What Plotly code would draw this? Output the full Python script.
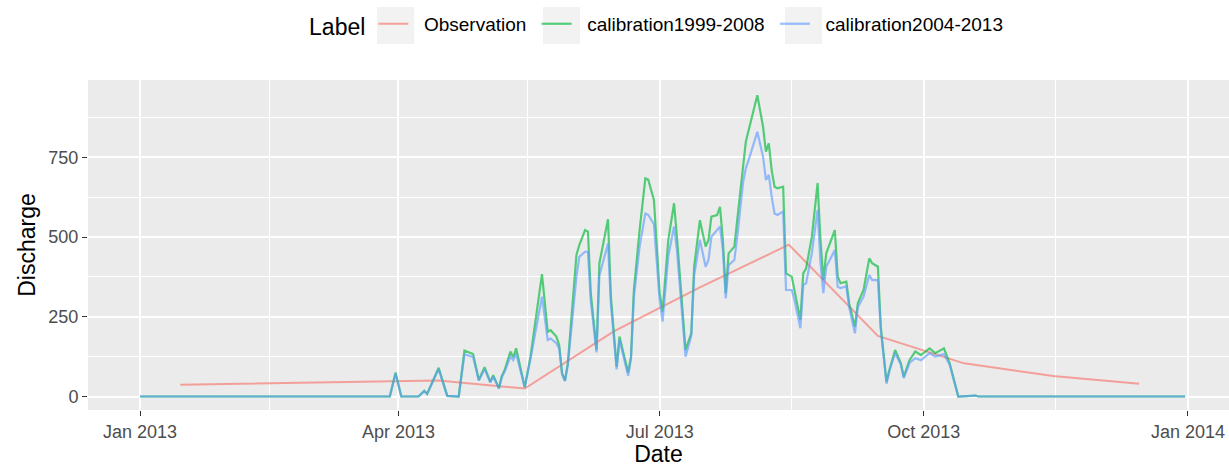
import plotly.graph_objects as go

# ---- data ----
sim_dates = [
    "2013-01-01", "2013-03-29", "2013-03-31", "2013-04-02", "2013-04-08", "2013-04-10",
    "2013-04-11", "2013-04-15", "2013-04-18", "2013-04-22", "2013-04-24", "2013-04-27",
    "2013-04-29", "2013-05-01", "2013-05-03", "2013-05-04", "2013-05-06", "2013-05-07",
    "2013-05-08", "2013-05-10", "2013-05-11", "2013-05-12", "2013-05-15", "2013-05-17",
    "2013-05-21", "2013-05-23", "2013-05-24", "2013-05-26", "2013-05-27", "2013-05-28",
    "2013-05-29", "2013-05-30", "2013-06-02", "2013-06-03", "2013-06-05", "2013-06-06",
    "2013-06-07", "2013-06-09", "2013-06-10", "2013-06-13", "2013-06-14", "2013-06-16",
    "2013-06-17", "2013-06-20", "2013-06-21", "2013-06-22", "2013-06-24", "2013-06-26",
    "2013-06-27", "2013-06-29", "2013-07-01", "2013-07-02", "2013-07-04", "2013-07-06",
    "2013-07-07", "2013-07-09", "2013-07-10", "2013-07-12", "2013-07-13", "2013-07-15",
    "2013-07-17", "2013-07-18", "2013-07-19", "2013-07-21", "2013-07-22", "2013-07-23",
    "2013-07-24", "2013-07-25", "2013-07-27", "2013-07-28", "2013-07-30", "2013-07-31",
    "2013-08-01", "2013-08-04", "2013-08-06", "2013-08-07", "2013-08-08", "2013-08-09",
    "2013-08-10", "2013-08-11", "2013-08-13", "2013-08-14", "2013-08-16", "2013-08-17",
    "2013-08-19", "2013-08-20", "2013-08-21", "2013-08-23", "2013-08-25", "2013-08-26",
    "2013-08-27", "2013-08-28", "2013-08-31", "2013-09-01", "2013-09-02", "2013-09-04",
    "2013-09-05", "2013-09-07", "2013-09-08", "2013-09-10", "2013-09-12", "2013-09-13",
    "2013-09-15", "2013-09-16", "2013-09-17", "2013-09-18", "2013-09-19", "2013-09-21",
    "2013-09-23", "2013-09-24", "2013-09-26", "2013-09-28", "2013-09-30", "2013-10-03",
    "2013-10-05", "2013-10-08", "2013-10-10", "2013-10-13", "2013-10-19", "2013-10-20",
    "2013-12-31",
]
calib_1999_2008 = [
    0, 0, 75, 0, 0, 18,
    8, 90, 2, 0, 144, 133,
    52, 92, 46, 67, 26, 64,
    83, 141, 123, 151, 29, 125,
    384, 203, 208, 188, 161, 73,
    50, 104, 444, 475, 522, 517,
    324, 146, 418, 556, 313, 93,
    188, 75, 125, 334, 522, 684,
    680, 616, 324, 266, 491, 606,
    501, 261, 146, 198, 407, 553,
    470, 491, 564, 569, 595, 491,
    324, 449, 470, 553, 721, 799,
    836, 945, 846, 768, 794, 710,
    658, 653, 658, 386, 376, 334,
    240, 386, 402, 501, 669, 491,
    365, 449, 522, 376, 355, 360,
    292, 219, 292, 334, 433, 418,
    407, 219, 125, 46, 83, 146,
    104, 62, 114, 141, 130, 151,
    136, 151, 104, 0, 3, 0,
    0,
]
calib_2004_2013 = [
    0, 0, 72, 0, 0, 17,
    8, 86, 2, 0, 132, 124,
    50, 86, 44, 63, 25, 60,
    78, 125, 114, 135, 28, 118,
    313, 177, 182, 167, 150, 70,
    48, 98, 376, 438, 454, 454,
    300, 138, 380, 480, 290, 85,
    178, 65, 118, 310, 470, 574,
    570, 540, 300, 235, 440, 533,
    460, 240, 125, 190, 380, 491,
    407, 428, 501, 522, 533, 460,
    308, 412, 428, 500, 669, 716,
    742, 830, 752, 679, 695, 627,
    574, 569, 580, 334, 334, 300,
    214, 350, 355, 450, 585, 420,
    324, 407, 459, 344, 340, 345,
    280, 198, 280, 313, 381, 365,
    365, 210, 120, 40, 80, 136,
    100, 58, 105, 120, 114, 136,
    125, 133, 100, 0, 3, 0,
    0,
]
obs_dates = ["2013-01-15", "2013-04-15", "2013-05-15", "2013-06-15", "2013-07-15",
             "2013-08-15", "2013-09-15", "2013-10-15", "2013-11-15", "2013-12-15"]
observation = [37, 50, 25, 204, 342, 476, 190, 104, 64, 40]

series_names = ["Observation", "calibration1999-2008", "calibration2004-2013"]
x_tick_vals = ["2013-01-01", "2013-04-01", "2013-07-01", "2013-10-01", "2014-01-01"]
x_tick_text = ["Jan 2013", "Apr 2013", "Jul 2013", "Oct 2013", "Jan 2014"]
x_minor_vals = ["2013-02-15", "2013-05-16", "2013-08-16", "2013-11-16"]
y_tick_vals = [0, 250, 500, 750]
y_minor_vals = [125, 375, 625, 875]

# ---- figure ----
NB = "\u00a0"
def legend_label(name):
    # non-breaking spaces widen the gaps around legend entries like ggplot's
    return NB * 2 + name + NB

fig = go.Figure()
fig.add_trace(go.Scatter(x=obs_dates, y=observation, mode="lines", name=legend_label(series_names[0]),
                         line=dict(color="rgba(248,118,109,0.65)", width=2)))
fig.add_trace(go.Scatter(x=sim_dates, y=calib_1999_2008, mode="lines", name=legend_label(series_names[1]),
                         line=dict(color="rgba(0,186,56,0.65)", width=2.2)))
fig.add_trace(go.Scatter(x=sim_dates, y=calib_2004_2013, mode="lines", name=legend_label(series_names[2]),
                         line=dict(color="rgba(97,156,255,0.65)", width=2.2)))

# light grey legend-key backgrounds (ggplot style), in paper coordinates
key_boxes = [(0.2533, 0.2858), (0.3988, 0.4313), (0.6109, 0.6433)]
shapes = [dict(type="rect", xref="paper", yref="paper", x0=a, x1=b, y0=1.1091, y1=1.2212,
               fillcolor="#F2F2F2", line=dict(width=0), layer="below") for a, b in key_boxes]

font_family = "Liberation Sans, Arial, sans-serif"
fig.update_layout(
    width=1229, height=467,
    margin=dict(l=88, r=0, t=80, b=57, autoexpand=False),
    paper_bgcolor="white",
    plot_bgcolor="#EBEBEB",
    font=dict(family=font_family, color="black"),
    shapes=shapes,
    legend=dict(
        orientation="h", x=0.192, xanchor="left", y=1.167, yanchor="middle",
        title=dict(text="Label", font=dict(size=23, color="black"), side="left"),
        font=dict(size=19, color="black"),
        itemwidth=30,
        bgcolor="rgba(0,0,0,0)",
    ),
    xaxis=dict(
        range=["2012-12-13 21:00", "2014-01-15 07:00"],
        tickmode="array", tickvals=x_tick_vals, ticktext=x_tick_text,
        tickfont=dict(size=18, color="#4D4D4D"),
        ticks="outside", ticklen=5, tickwidth=1.2, tickcolor="#333333",
        showgrid=True, gridcolor="white", gridwidth=1.6,
        minor=dict(tickmode="array", tickvals=x_minor_vals, showgrid=True,
                   gridcolor="white", gridwidth=0.8, ticklen=0),
        zeroline=False, showline=False, automargin=False,
        title=dict(text="Date", font=dict(size=23, color="black"), standoff=4),
    ),
    yaxis=dict(
        range=[-42.3, 992.5],
        tickmode="array", tickvals=y_tick_vals,
        tickfont=dict(size=18, color="#4D4D4D"),
        ticks="outside", ticklen=5, tickwidth=1.2, tickcolor="#333333",
        showgrid=True, gridcolor="white", gridwidth=1.6,
        minor=dict(tickmode="array", tickvals=y_minor_vals, showgrid=True,
                   gridcolor="white", gridwidth=0.8, ticklen=0),
        zeroline=False, showline=False, automargin=False,
        title=dict(text="Discharge", font=dict(size=23, color="black"), standoff=6),
    ),
)

fig.write_html("out.html")
